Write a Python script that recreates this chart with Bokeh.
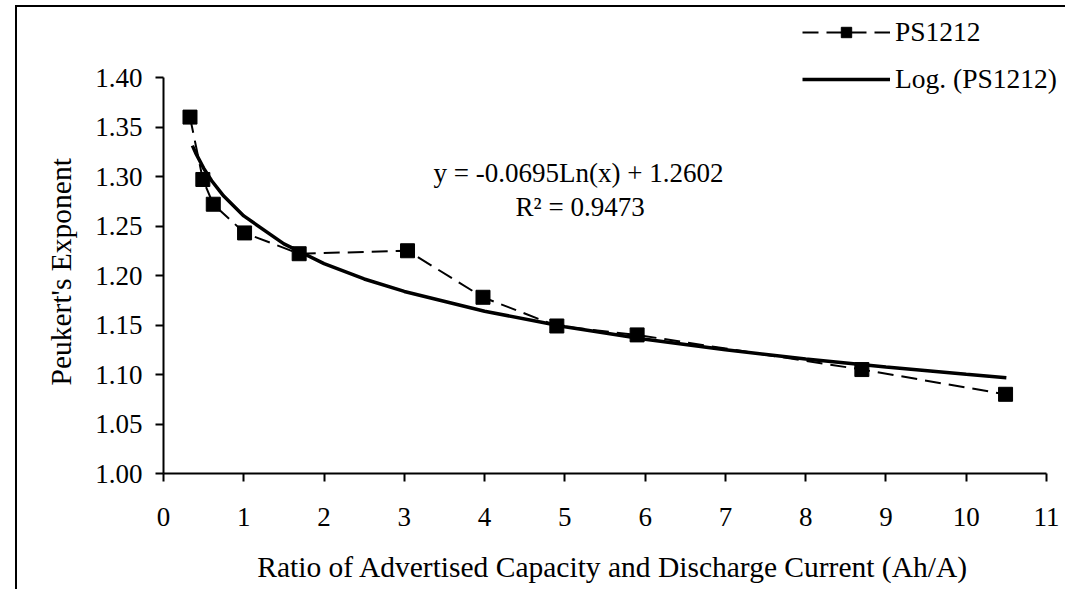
from bokeh.plotting import figure
from bokeh.models import (Range1d, SingleIntervalTicker, FixedTicker, NumeralTickFormatter,
                          Legend, LegendItem, Label, ColumnDataSource, Title)
from bokeh.embed import file_html
from bokeh.resources import INLINE

# Data
ratio = [0.33, 0.49, 0.62, 1.01, 1.69, 3.04, 3.98, 4.90, 5.90, 8.70, 10.49]
peukert = [1.360, 1.297, 1.272, 1.243, 1.222, 1.225, 1.178, 1.149, 1.140, 1.105, 1.080]

# Logarithmic trend line
trend_x = [0.36, 0.40, 0.50, 0.60, 0.75, 1.0, 1.5, 2.0, 2.5, 3.0, 4.0, 5.0, 6.0, 7.0, 8.0, 9.0, 10.0, 10.5]
trend_y = [1.3312, 1.3239, 1.3084, 1.2957, 1.2802, 1.2602, 1.2320, 1.2120, 1.1965, 1.1839,
           1.1639, 1.1483, 1.1357, 1.1250, 1.1157, 1.1075, 1.1002, 1.0968]

y_ticks = [1.00, 1.05, 1.10, 1.15, 1.20, 1.25, 1.30, 1.35, 1.40]

FONT = "Liberation Serif"
TICK_FS = "27px"
AXIS_FS = "29.5px"
LEG_FS = "27.5px"
ANN_FS = "27px"

W, H = 1050, 584
# frame extended above / right of the axes so the legend (outside the axes) is not clipped
p = figure(width=W, height=H, output_backend="svg", toolbar_location=None,
           x_range=Range1d(0, 11.1993), y_range=Range1d(1.0, 1.46768),
           min_border_left=146, min_border_right=5, min_border_top=3, min_border_bottom=118,
           margin=(5, 0, 0, 15),
           styles={"border-top": "2px solid black", "border-left": "2px solid black"})

p.grid.visible = False
p.outline_line_color = None
p.background_fill_color = "white"
p.border_fill_color = "white"

for ax in (p.xaxis[0], p.yaxis[0]):
    ax.axis_line_width = 2
    ax.axis_line_color = "black"
    ax.major_tick_line_width = 2
    ax.major_tick_in = 0
    ax.major_tick_out = 8
    ax.minor_tick_line_color = None
    ax.major_label_text_font = FONT
    ax.major_label_text_font_size = TICK_FS
    ax.major_label_text_color = "black"
    ax.axis_label_text_font = FONT
    ax.axis_label_text_font_size = AXIS_FS
    ax.axis_label_text_font_style = "normal"
    ax.axis_label_text_color = "black"

p.xaxis.ticker = SingleIntervalTicker(interval=1, num_minor_ticks=0)
p.xaxis.bounds = (0, 11)
p.xaxis.major_label_standoff = 26
p.xaxis.axis_label = "Ratio of Advertised Capacity and Discharge Current (Ah/A)"
p.xaxis.axis_label_standoff = 22

p.yaxis.ticker = FixedTicker(ticks=y_ticks)
p.yaxis.bounds = (1.0, 1.4)
p.yaxis.formatter = NumeralTickFormatter(format="0.00")
p.yaxis.major_label_standoff = 13

# y axis title, positioned along the axes' extent (not the extended frame)
ytitle = Title(text="Peukert's Exponent", align="left", offset=88, standoff=32,
               text_font=FONT, text_font_size=AXIS_FS, text_font_style="normal",
               text_color="black")
p.add_layout(ytitle, "left")

src = ColumnDataSource(data=dict(x=ratio, y=peukert))
tsrc = ColumnDataSource(data=dict(x=trend_x, y=trend_y))

data_line = p.line("x", "y", source=src, line_color="black", line_width=2, line_dash="16 8")
data_pts = p.scatter("x", "y", source=src, marker="square", size=14,
                     fill_color="black", line_color="black")
trend_line = p.line("x", "y", source=tsrc, line_color="black", line_width=3.5)

legend = Legend(items=[
    LegendItem(label="PS1212", renderers=[data_line, data_pts]),
    LegendItem(label="Log. (PS1212)", renderers=[trend_line]),
], location=(639, 378))
legend.border_line_color = None
legend.background_fill_alpha = 0
legend.label_text_font = FONT
legend.label_text_font_size = LEG_FS
legend.label_text_color = "black"
legend.glyph_width = 88
legend.glyph_height = 26
legend.label_standoff = 5
legend.spacing = 15
legend.padding = 0
legend.margin = 0
p.add_layout(legend, "center")

eq = Label(x=5.17, y=1.304, text="y = -0.0695Ln(x) + 1.2602", text_font=FONT,
           text_font_size=ANN_FS, text_align="center", text_baseline="middle", text_color="black")
r2 = Label(x=5.19, y=1.2687, text="R² = 0.9473", text_font=FONT,
           text_font_size=ANN_FS, text_align="center", text_baseline="middle", text_color="black")
p.add_layout(eq)
p.add_layout(r2)

open("out.html", "w").write(file_html(p, INLINE))
